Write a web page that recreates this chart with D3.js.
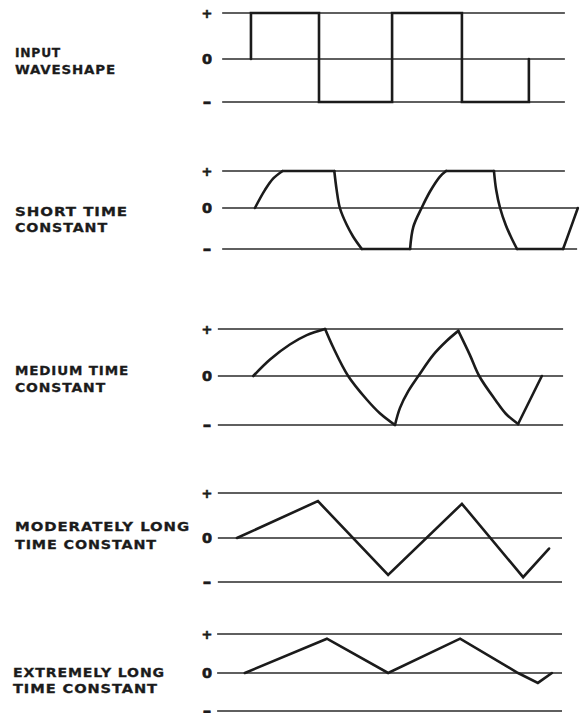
<!DOCTYPE html>
<html>
<head>
<meta charset="utf-8">
<script src="https://cdn.jsdelivr.net/npm/d3@7"></script>
<style>
  html, body { margin: 0; padding: 0; background: #ffffff; }
  svg { display: block; }
</style>
</head>
<body>
<script>
// ---------- DATA ----------
// time axis in arbitrary units (0..100), level in units (-1 .. +1)
const levelLabels = ["+", "0", "\u2013"];
const levelValues = [1, 0, -1];

const panelTitles = [
  ["INPUT", "WAVESHAPE"],
  ["SHORT TIME", "CONSTANT"],
  ["MEDIUM TIME", "CONSTANT"],
  ["MODERATELY LONG", "TIME CONSTANT"],
  ["EXTREMELY LONG", "TIME CONSTANT"]
];

// each waveform = list of pieces; each piece = list of [t, v]
const inputWave = [
  [[8.6, 0], [8.6, 1], [27.5, 1], [27.5, -1], [47.8, -1], [47.8, 1],
   [67.2, 1], [67.2, -1], [85.8, -1], [85.8, 0]]
];

const shortWave = [
  [[9.7, 0], [12.5, 0.49], [14.8, 0.8], [17.4, 1]],
  [[17.4, 1], [31.75, 1]],
  [[31.75, 1], [32.4, 0.49], [33.3, 0], [35.2, -0.41], [37.0, -0.7], [39.4, -1]],
  [[39.4, -1], [52.8, -1]],
  [[52.8, -1], [53.7, -0.46], [56.0, 0], [58.3, 0.44], [61.1, 0.85], [62.8, 1]],
  [[62.8, 1], [76.1, 1]],
  [[76.1, 1], [76.7, 0.5], [77.8, 0], [79.4, -0.42], [80.9, -0.72], [82.5, -1]],
  [[82.5, -1], [95.3, -1]],
  [[95.3, -1], [97.2, -0.54], [99.4, 0]]
];

const mediumWave = [
  [[9.25, 0], [13.9, 0.35], [19.4, 0.67], [24.1, 0.87], [29.2, 1]],
  [[29.2, 1], [31.5, 0.6], [35.6, 0], [40.75, -0.48], [44.4, -0.76], [48.6, -1]],
  [[48.6, -1], [50.0, -0.65], [52.3, -0.31], [55.1, 0], [59.25, 0.45], [63.0, 0.75], [66.2, 0.96]],
  [[66.2, 0.96], [69.4, 0.45], [72.0, 0], [76.6, -0.5], [79.4, -0.77], [82.8, -0.98]],
  [[82.8, -0.98], [89.4, 0]]
];

const moderateWave = [
  [[4.7, 0], [27.2, 0.82], [46.7, -0.84], [67.2, 0.76], [84.2, -0.89], [91.4, -0.24]]
];

const extremeWave = [
  [[6.9, 0], [29.7, 0.88], [46.7, 0], [66.7, 0.88], [82.8, 0], [88.3, -0.26], [92.2, 0]]
];

const waves = [inputWave, shortWave, mediumWave, moderateWave, extremeWave];

// gridline extents (time units) per panel: [+ line, 0 line, - line]
const gridExtents = [
  [[0.6, 95.8], [0.6, 95.8], [0.6, 95.8]],
  [[0.6, 95.8], [0.6, 99.2], [0.6, 99.2]],
  [[-0.6, 95.3], [-0.6, 95.3], [-0.6, 95.3]],
  [[-0.6, 95.0], [-0.6, 95.0], [-0.6, 95.0]],
  [[-0.8, 95.0], [-0.8, 95.0], [-0.8, 95.0]]
];

// ---------- LAYOUT ----------
const W = 583, H = 713;
const layout = [
  { lv: [13, 59, 102],   title: [52, 69],      tx: 15, tw: [46, 101] },
  { lv: [171, 208, 249], title: [211, 227.5],  tx: 15, tw: [113, 93] },
  { lv: [329, 376, 425], title: [370, 387.5],  tx: 15, tw: [114, 91] },
  { lv: [493, 538, 582], title: [526, 544],    tx: 15, tw: [175, 142] },
  { lv: [634, 673, 711], title: [672.5, 688.5], tx: 13, tw: [152, 145] }
];
const curved = [false, true, true, false, false];

const x = d3.scaleLinear().domain([0, 100]).range([220, 580]);

const svg = d3.select("body").append("svg")
  .attr("width", W).attr("height", H)
  .style("background", "#ffffff");

const ink = "#1b1b1b";
const labelSize = [13, 14.5, 17];

layout.forEach((L, i) => {
  const y = d3.scaleLinear().domain([1, 0, -1]).range(L.lv);
  const g = svg.append("g");

  // gridlines
  levelValues.forEach((v, k) => {
    const ext = gridExtents[i][k];
    g.append("line")
      .attr("x1", x(ext[0])).attr("x2", x(ext[1]))
      .attr("y1", y(v)).attr("y2", y(v))
      .attr("stroke", "#2a2a2a").attr("stroke-width", 1.7);
  });

  // level labels
  levelValues.forEach((v, k) => {
    g.append("text")
      .attr("x", 207).attr("y", y(v))
      .attr("text-anchor", "middle")
      .attr("dominant-baseline", "central")
      .attr("font-family", "DejaVu Sans")
      .attr("font-weight", "bold")
      .attr("font-size", labelSize[k])
      .attr("fill", ink)
      .attr("stroke", ink).attr("stroke-width", 0.6)
      .text(levelLabels[k]);
  });

  // titles
  panelTitles[i].forEach((t, k) => {
    g.append("text")
      .attr("x", L.tx).attr("y", L.title[k])
      .attr("dominant-baseline", "central")
      .attr("font-family", "DejaVu Sans")
      .attr("font-weight", "bold")
      .attr("font-size", 13)
      .attr("letter-spacing", 0.8)
      .attr("textLength", L.tw[k])
      .attr("lengthAdjust", "spacingAndGlyphs")
      .attr("fill", ink)
      .attr("stroke", ink).attr("stroke-width", 0.3)
      .text(t);
  });

  // waveform
  const line = d3.line()
    .x(d => x(d[0])).y(d => y(d[1]))
    .curve(curved[i] ? d3.curveCatmullRom.alpha(0.5) : d3.curveLinear);
  waves[i].forEach(piece => {
    g.append("path")
      .attr("d", line(piece))
      .attr("fill", "none")
      .attr("stroke", ink)
      .attr("stroke-width", 2.6)
      .attr("stroke-linejoin", "miter")
      .attr("stroke-linecap", "round");
  });
});
</script>
</body>
</html>
